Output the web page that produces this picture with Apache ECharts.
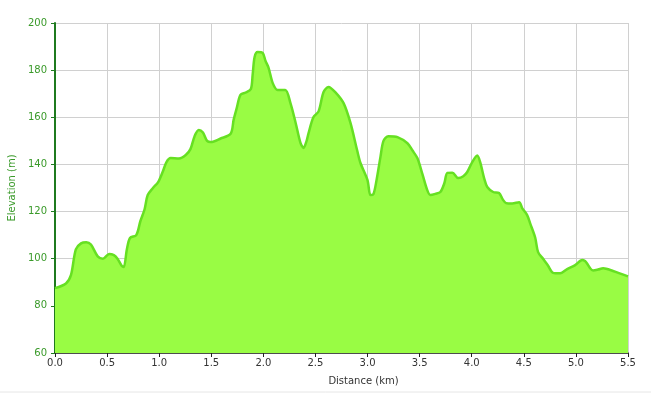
<!DOCTYPE html>
<html>
<head>
<meta charset="utf-8">
<script src="https://cdn.jsdelivr.net/npm/echarts@6/dist/echarts.min.js"></script>
<style>
html,body{margin:0;padding:0;background:#fff;}
#chart{width:651px;height:394px;}
</style>
</head>
<body>
<div id="chart"></div>
<script>
const distanceKm = [0.00,0.105,0.153,0.20,0.25,0.30,0.345,0.41,0.46,0.52,0.565,0.60,0.64,0.66,0.69,0.72,0.78,0.82,0.86,0.89,0.94,0.99,1.035,1.07,1.11,1.19,1.255,1.30,1.34,1.38,1.42,1.46,1.495,1.59,1.686,1.715,1.745,1.78,1.83,1.88,1.897,1.916,1.945,1.993,2.02,2.05,2.09,2.137,2.21,2.26,2.31,2.357,2.386,2.415,2.434,2.48,2.53,2.578,2.626,2.69,2.77,2.836,2.90,2.932,2.999,3.028,3.057,3.085,3.124,3.153,3.20,3.287,3.383,3.43,3.478,3.526,3.574,3.603,3.651,3.699,3.737,3.766,3.814,3.871,3.919,3.957,4.005,4.053,4.081,4.12,4.149,4.206,4.262,4.30,4.33,4.388,4.455,4.484,4.532,4.561,4.609,4.637,4.685,4.733,4.781,4.849,4.916,4.993,5.06,5.088,5.107,5.136,5.165,5.213,5.261,5.31,5.356,5.42,5.50];
const elevationM = [87.5,89.5,93,104,106.5,107,106,101,100,102,101.5,100,97,96.5,104,108.8,110,116,121,127,130,132.5,137,141,142.7,142.5,144,146.5,152,154.6,153.5,150,149.5,151,153,159,164,169.5,170.5,172,178,185.6,187.7,187.3,184,181,174.5,171.6,171.6,166,157.6,149,147,150,153.3,160,162.5,170.7,172.9,170.7,166,157.6,146,140.6,133.4,127,127.5,133,143.2,150,152,151.6,149,146,142.7,136,129,127,127.5,128.3,132,136.4,136.5,134.2,135,136.8,141,143.8,141,134,130.4,128.3,127.9,125,123.6,123.4,124,121.5,118.5,115,109,102.8,100,97,94,93.8,95.6,97.3,99.5,99,98,96,95,95.4,96,95.5,94.8,93.8,92.5];
const xTicks = {min:0, max:5.5, interval:0.5};
const yTicks = {min:60, max:200, interval:20};
const xTitle = 'Distance (km)';
const yTitle = 'Elevation (m)';

const chart = echarts.init(document.getElementById('chart'), null, {renderer:'canvas'});
const font = '"DejaVu Sans", Verdana, sans-serif';
chart.setOption({
  animation:false,
  backgroundColor:'#ffffff',
  grid:{left:55, right:23, top:23, bottom:41, containLabel:false, outerBoundsMode:'none'},
  xAxis:{
    type:'value', min:xTicks.min, max:xTicks.max, interval:xTicks.interval,
    name:xTitle, nameLocation:'middle', nameGap:23,
    nameTextStyle:{color:'#333', fontSize:10, fontFamily:font, padding:[0,0,0,44]},
    axisLine:{show:true, onZero:false, lineStyle:{color:'#222', width:1.5}},
    axisTick:{show:true, length:4, lineStyle:{color:'#222'}},
    axisLabel:{color:'#333', fontSize:10, fontFamily:font, margin:5, formatter:v=>v.toFixed(1)},
    splitLine:{show:true, lineStyle:{color:'#d0d0d0', width:1}}
  },
  yAxis:{
    type:'value', min:yTicks.min, max:yTicks.max, interval:yTicks.interval,
    name:yTitle, nameLocation:'middle', nameGap:37, nameRotate:90,
    nameTextStyle:{color:'#3a9a2a', fontSize:10, fontFamily:font},
    axisLine:{show:true, lineStyle:{color:'#1f7a1f', width:2}},
    axisTick:{show:true, length:4, lineStyle:{color:'#1f7a1f'}},
    axisLabel:{color:'#3a9a2a', fontSize:10, fontFamily:font, margin:8},
    splitLine:{show:true, lineStyle:{color:'#d0d0d0', width:1}}
  },
  graphic:[{type:'line', shape:{x1:0,y1:392,x2:651,y2:392}, style:{stroke:'#e6e6e6', lineWidth:1}}],
  series:[{
    type:'line',
    data:distanceKm.map((d,i)=>[d, elevationM[i]]),
    showSymbol:false,
    smooth:0.3,
    lineStyle:{color:'#66e022', width:2.5},
    areaStyle:{color:'#99fc44', opacity:1, origin:'start'},
    z:3
  }]
});
</script>
</body>
</html>
